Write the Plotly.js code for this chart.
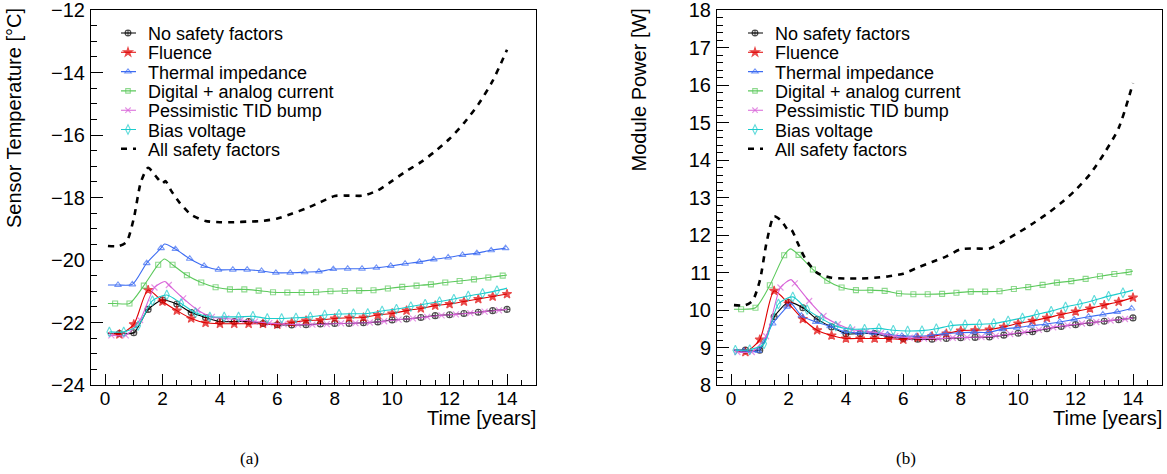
<!DOCTYPE html>
<html><head><meta charset="utf-8">
<script src="https://cdn.plot.ly/plotly-3.0.1.min.js"></script>
<style>html,body{margin:0;padding:0;background:#fff}#chart{width:1167px;height:474px}</style>
</head><body><div id="chart"></div>
<script>
// ---------- data ----------
const seriesNames = ['No safety factors', 'Fluence', 'Thermal impedance', 'Digital + analog current',
  'Pessimistic TID bump', 'Bias voltage', 'All safety factors'];

// time points [years]
const tNo   = [0.1,0.5,1.0,1.5,2.0,2.5,3.0,3.5,4.0,4.5,5.0,5.5,6.0,6.5,7.0,7.5,8.0,8.5,9.0,9.5,10.0,10.5,11.0,11.5,12.0,12.5,13.0,13.5,14.0];
const tFlu  = [0.1,0.5,1.0,1.5,2.0,2.5,3.0,3.5,4.0,4.5,5.0,5.5,6.0,6.5,7.0,7.5,8.0,8.5,9.0,9.5,10.0,10.5,11.0,11.5,12.0,12.5,13.0,13.5,14.0];
const tTh   = [0.1,0.45,0.95,1.45,1.95,2.07,2.45,2.95,3.45,3.95,4.45,4.95,5.45,5.95,6.45,6.95,7.45,7.95,8.45,8.95,9.45,9.95,10.45,10.95,11.45,11.95,12.45,12.95,13.45,13.95];
const tDig  = [0.1,0.35,0.85,1.35,1.85,2.07,2.35,2.85,3.35,3.85,4.35,4.85,5.35,5.85,6.35,6.85,7.35,7.85,8.35,8.85,9.35,9.85,10.35,10.85,11.35,11.85,12.35,12.85,13.35,13.85,14.0];
const tTid  = [0.1,0.22,0.72,1.22,1.72,2.09,2.22,2.72,3.22,3.72,4.22,4.72,5.22,5.72,6.22,6.72,7.22,7.72,8.22,8.72,9.22,9.72,10.22,10.72,11.22,11.72,12.22,12.72,13.22,13.72,14.0];
const tBias = [0.15,0.65,1.15,1.65,2.15,2.65,3.15,3.65,4.15,4.65,5.15,5.65,6.15,6.65,7.15,7.65,8.15,8.65,9.15,9.65,10.15,10.65,11.15,11.65,12.15,12.65,13.15,13.65,14.0];
const tAll  = [0.1,0.5,0.75,1.0,1.25,1.5,1.75,2.0,2.1,2.3,2.6,3.0,3.5,4.0,4.5,5.0,5.5,6.0,6.5,7.0,7.5,8.0,8.5,9.0,9.5,10.0,10.5,11.0,11.5,12.0,12.5,13.0,13.5,14.0];

// (a) sensor temperature [degC]
const tempNo   = [-22.35,-22.35,-22.33,-21.58,-21.28,-21.41,-21.68,-21.84,-21.97,-21.97,-21.97,-22.03,-22.07,-22.08,-22.07,-22.05,-22.03,-22.03,-22.01,-21.98,-21.92,-21.89,-21.84,-21.78,-21.75,-21.71,-21.67,-21.62,-21.58];
const tempFlu  = [-22.33,-22.38,-22.06,-20.96,-21.33,-21.62,-21.87,-22.01,-22.04,-22.04,-22.04,-22.04,-22.07,-22.0,-21.94,-21.92,-21.87,-21.85,-21.84,-21.76,-21.71,-21.62,-21.55,-21.46,-21.41,-21.33,-21.25,-21.17,-21.09];
const tempTh   = [-20.80,-20.80,-20.78,-20.10,-19.62,-19.49,-19.65,-19.96,-20.19,-20.31,-20.31,-20.31,-20.35,-20.41,-20.41,-20.39,-20.37,-20.29,-20.28,-20.28,-20.25,-20.19,-20.12,-20.06,-19.98,-19.92,-19.84,-19.78,-19.69,-19.62];
const tempDig  = [-21.39,-21.39,-21.39,-20.82,-20.15,-19.97,-20.15,-20.49,-20.72,-20.87,-20.94,-20.94,-20.98,-21.03,-21.04,-21.04,-21.03,-21.0,-20.99,-20.98,-20.97,-20.91,-20.86,-20.82,-20.78,-20.72,-20.67,-20.62,-20.56,-20.50,-20.48];
const tempTid  = [-22.40,-22.41,-22.41,-21.92,-20.88,-20.69,-20.80,-21.23,-21.60,-21.82,-21.87,-21.92,-21.97,-22.02,-22.05,-22.07,-22.07,-22.05,-22.03,-22.02,-22.0,-21.96,-21.91,-21.87,-21.82,-21.77,-21.74,-21.70,-21.65,-21.61,-21.58];
const tempBias = [-22.30,-22.30,-22.10,-21.30,-21.12,-21.39,-21.69,-21.82,-21.82,-21.82,-21.80,-21.87,-21.87,-21.85,-21.82,-21.76,-21.73,-21.72,-21.71,-21.63,-21.57,-21.49,-21.41,-21.33,-21.25,-21.15,-21.07,-20.98,-20.90];
const tempAll  = [-19.55,-19.55,-19.42,-18.67,-17.5,-17.05,-17.3,-17.55,-17.47,-17.78,-18.17,-18.55,-18.75,-18.79,-18.79,-18.77,-18.75,-18.67,-18.52,-18.35,-18.15,-17.95,-17.94,-17.94,-17.77,-17.47,-17.15,-16.87,-16.52,-16.12,-15.62,-15.02,-14.27,-13.27];

// (b) module power [W]
const powNo   = [8.93,8.93,8.93,9.82,10.2,10.06,9.75,9.55,9.37,9.37,9.37,9.28,9.24,9.22,9.22,9.24,9.26,9.27,9.28,9.33,9.38,9.42,9.50,9.56,9.61,9.66,9.70,9.74,9.79];
const powFlu  = [8.93,8.88,9.21,10.51,10.17,9.76,9.46,9.32,9.24,9.24,9.24,9.24,9.21,9.26,9.30,9.37,9.45,9.46,9.48,9.55,9.64,9.71,9.79,9.88,9.96,10.04,10.13,10.22,10.33];
const powTh   = [8.93,8.91,8.91,9.64,10.09,10.19,9.85,9.68,9.57,9.42,9.39,9.39,9.35,9.31,9.30,9.32,9.37,9.39,9.41,9.40,9.49,9.53,9.58,9.62,9.68,9.75,9.82,9.88,9.95,10.04];
const powDig  = [10.02,10.02,10.06,10.66,11.46,11.63,11.47,11.08,10.78,10.6,10.53,10.53,10.51,10.44,10.42,10.42,10.43,10.46,10.49,10.49,10.50,10.56,10.61,10.67,10.73,10.77,10.83,10.90,10.96,11.01,11.04];
const powTid  = [8.88,8.88,8.88,9.3,10.6,10.81,10.71,10.24,9.84,9.62,9.48,9.43,9.38,9.30,9.26,9.24,9.24,9.26,9.27,9.28,9.31,9.36,9.41,9.47,9.54,9.59,9.64,9.68,9.72,9.76,9.79];
const powBias = [8.93,8.94,9.1,10.16,10.35,10.01,9.77,9.57,9.49,9.49,9.51,9.46,9.44,9.45,9.50,9.58,9.61,9.62,9.64,9.71,9.79,9.88,9.97,10.08,10.16,10.26,10.37,10.46,10.53];
const powAll  = [10.13,10.13,10.25,10.78,11.85,12.5,12.38,12.12,12.14,11.82,11.35,10.99,10.86,10.84,10.84,10.86,10.9,10.97,11.13,11.28,11.43,11.62,11.64,11.64,11.84,12.06,12.3,12.56,12.86,13.2,13.62,14.18,14.85,16.05];

// ---------- styles ----------
const styles = [
  {color:'#000000', symbol:'circle-cross-open', size:6},
  {color:'#e00000', symbol:'star', size:7},
  {color:'#3d6cf2', symbol:'triangle-up-open', size:6},
  {color:'#5cc95c', symbol:'square-open', size:5},
  {color:'#d863d8', symbol:'x-thin-open', size:6},
  {color:'#1ccccc', symbol:'diamond-tall-open', size:7}
];
const tArr = [tNo, tFlu, tTh, tDig, tTid, tBias];
const panels = [
  {xa:'x', ya:'y', legend:'legend', vals:[tempNo,tempFlu,tempTh,tempDig,tempTid,tempBias], all:tempAll},
  {xa:'x2', ya:'y2', legend:'legend2', vals:[powNo,powFlu,powTh,powDig,powTid,powBias], all:powAll}
];

// markers are drawn on the half-year grid of each series; extra line points carry no marker
function markerSizes(t, size) {
  const phase = t[1];
  return t.map(v => { const k = (v - phase) / 0.5; return Math.abs(k - Math.round(k)) < 0.04 ? size : 0; });
}

const traces = [];
panels.forEach(p => {
  for (let i = 0; i < 6; i++) {
    const s = styles[i];
    traces.push({
      type:'scatter', mode:'lines+markers', name: seriesNames[i],
      x: tArr[i], y: p.vals[i], xaxis: p.xa, yaxis: p.ya, legend: p.legend,
      line:{color:s.color, width:1.1, shape:'spline', smoothing:0.7},
      marker:{symbol:s.symbol, size:markerSizes(tArr[i], s.size), color:s.color, line:{color:s.color, width:1.1}}
    });
  }
  traces.push({
    type:'scatter', mode:'lines', name: seriesNames[6],
    x: tAll, y: p.all, xaxis: p.xa, yaxis: p.ya, legend: p.legend,
    line:{color:'#000000', width:2.6, dash:'6px,6px', shape:'spline', smoothing:0.7}
  });
});

const FONT = '"Liberation Sans", Arial, Helvetica, sans-serif';
const W = 1167, H = 474;
function xAxis(domain, anchor) {
  return {domain, anchor, range:[-0.49, 15.01], dtick:2, tick0:0, ticks:'inside', ticklen:11, tickwidth:1,
    tickcolor:'#000', showline:true, linecolor:'#000', linewidth:1, mirror:true, showgrid:false, zeroline:false,
    tickfont:{family:FONT, size:19, color:'#000'}, ticklabelstandoff:-4, ticklabeloverflow:'allow',
    minor:{dtick:0.5, ticks:'inside', ticklen:5, tickcolor:'#000', tickwidth:1, showgrid:false}};
}
function yAxis(domain, anchor, range, dtick, minorD) {
  return {domain, anchor, range, dtick, ticks:'inside', ticklen:12, tickwidth:1, tickcolor:'#000',
    showline:true, linecolor:'#000', linewidth:1, mirror:true, showgrid:false, zeroline:false,
    tickfont:{family:FONT, size:20, color:'#000'}, ticklabelstandoff:1, ticklabeloverflow:'allow',
    minor:{dtick:minorD, ticks:'inside', ticklen:6, tickcolor:'#000', tickwidth:1, showgrid:false}};
}
const yDom = [1 - 385/H, 1 - 10/H];
const legendBase = {bgcolor:'rgba(0,0,0,0)', borderwidth:0, font:{family:FONT, size:18, color:'#000'},
  xanchor:'left', yanchor:'top', tracegroupgap:0, itemwidth:30};

const layout = {
  width:W, height:H, margin:{l:0, r:0, t:0, b:0}, paper_bgcolor:'#fff', plot_bgcolor:'#fff',
  font:{family:FONT, size:18, color:'#000'}, showlegend:true,
  xaxis: xAxis([91/W, 536/W], 'y'),
  yaxis: yAxis(yDom, 'x', [-24, -12], 2, 0.5),
  xaxis2: xAxis([717/W, 1162/W], 'y2'),
  yaxis2: yAxis(yDom, 'x2', [8, 18], 1, 0.2),
  legend: Object.assign({x:100/W, y:1 - 18/H}, legendBase),
  legend2: Object.assign({x:727/W, y:1 - 18/H}, legendBase),
  annotations: [
    {text:'Sensor Temperature [°C]', xref:'paper', yref:'paper', x:14/W, y:1 - 6/H, xanchor:'center', yanchor:'top',
     textangle:-90, showarrow:false, font:{family:FONT, size:20, color:'#000'}},
    {text:'Module Power [W]', xref:'paper', yref:'paper', x:638/W, y:1 - 7/H, xanchor:'center', yanchor:'top',
     textangle:-90, showarrow:false, font:{family:FONT, size:20, color:'#000'}},
    {text:'Time [years]', xref:'paper', yref:'paper', x:538/W, y:1 - 418/H, xanchor:'right', yanchor:'middle',
     showarrow:false, font:{family:FONT, size:20, color:'#000'}},
    {text:'Time [years]', xref:'paper', yref:'paper', x:1164/W, y:1 - 418/H, xanchor:'right', yanchor:'middle',
     showarrow:false, font:{family:FONT, size:20, color:'#000'}},
    {text:'(a)', xref:'paper', yref:'paper', x:249/W, y:1 - 458/H, xanchor:'center', yanchor:'middle',
     showarrow:false, font:{family:'"Liberation Serif", "DejaVu Serif", serif', size:17, color:'#000'}},
    {text:'(b)', xref:'paper', yref:'paper', x:906/W, y:1 - 458/H, xanchor:'center', yanchor:'middle',
     showarrow:false, font:{family:'"Liberation Serif", "DejaVu Serif", serif', size:17, color:'#000'}}
  ]
};

// compact legend rows like the original (about 19.3 px per row) and short key lines
function parseTr(el) {
  const m = /translate\(\s*([-\d.e]+)[ ,]+([-\d.e]+)\s*\)/.exec((el && el.getAttribute('transform')) || '');
  return m ? [parseFloat(m[1]), parseFloat(m[2])] : [0, 0];
}
function tightenLegends() {
  const targets = {legend:{textX:148, firstY:33}, legend2:{textX:775, firstY:33}};
  Object.keys(targets).forEach(cls => {
    const lg = document.querySelector('g.' + cls);
    if (!lg) return;
    const tgt = targets[cls];
    const items = lg.querySelectorAll('g.traces');
    if (!items.length) return;
    const [x0, y0] = parseTr(items[0]);
    items.forEach((g, i) => g.setAttribute('transform', `translate(${x0},${y0 + i * 19.3})`));
    const [sx, sy] = parseTr(lg.querySelector('g.scrollbox'));
    lg.setAttribute('transform', `translate(${tgt.textX - 40 - x0 - sx},${tgt.firstY - y0 - sy})`);
    lg.querySelectorAll('g.legendlines path').forEach(p => p.setAttribute('d', 'M13,0h15'));
  });
}

Plotly.newPlot('chart', traces, layout, {displayModeBar:false, staticPlot:true}).then(tightenLegends);
</script>
</body></html>
